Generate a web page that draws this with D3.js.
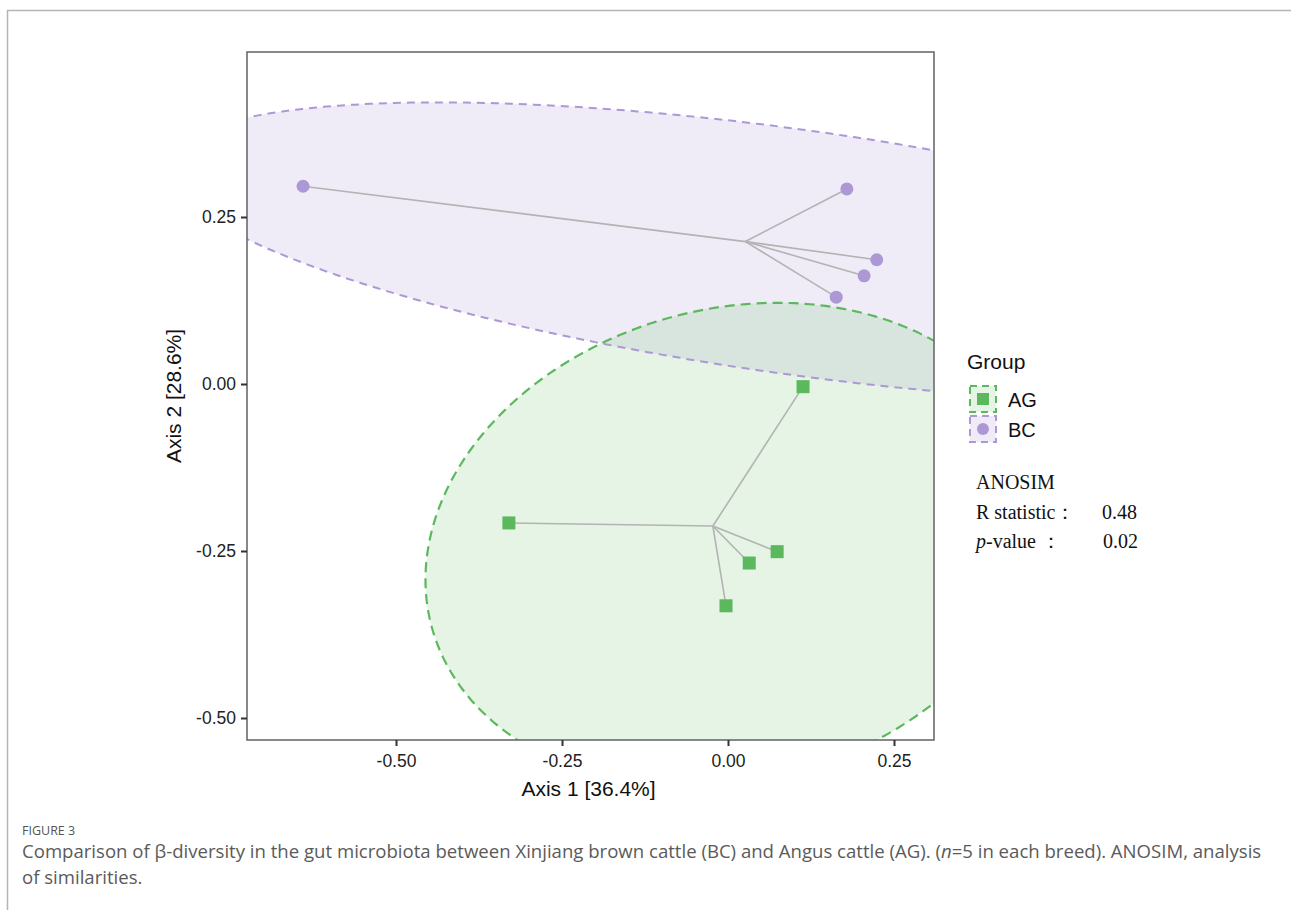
<!DOCTYPE html>
<html>
<head>
<meta charset="utf-8">
<script src="https://cdn.jsdelivr.net/npm/d3@7/dist/d3.min.js"></script>
<style>
  html, body { margin: 0; padding: 0; background: #fff; }
  svg { display: block; }
</style>
</head>
<body>
<svg id="chart" width="1291" height="910"></svg>
<script>
// ---------------- data ----------------
const groups = ["AG", "BC"];
const agX = [-0.330, 0.113, 0.032, 0.074, -0.003];
const agY = [-0.208, -0.004, -0.268, -0.251, -0.332];
const bcX = [-0.640, 0.179, 0.224, 0.205, 0.163];
const bcY = [0.296, 0.292, 0.186, 0.162, 0.130];

// confidence ellipses (centre, semi-axes, rotation in degrees), per group
const ellipseCenterX = [0.0074, 0.1009];
const ellipseCenterY = [-0.2406, 0.1976];
const ellipseSemiMajor = [0.470, 0.957];
const ellipseSemiMinor = [0.353, 0.183];
const ellipseAngleDeg = [15.1, -7.9];

const xTicks = [-0.50, -0.25, 0.00, 0.25];
const yTicks = [-0.50, -0.25, 0.00, 0.25];
const xTitle = "Axis 1 [36.4%]";
const yTitle = "Axis 2 [28.6%]";
const legendTitle = "Group";
const statLines = ["ANOSIM", "R statistic", "p-value"];
const statValues = ["", "0.48", "0.02"];
const figLabel = "FIGURE 3";

// ---------------- style ----------------
const colors = { AG: "#5cb85c", BC: "#ad98d6" };
const fills = { AG: "rgba(92,184,92,0.16)", BC: "rgba(165,140,210,0.17)" };
const dashes = { AG: "10,6", BC: "8,6" };

const svg = d3.select("#chart");

// outer frame
svg.append("line").attr("x1", 7).attr("x2", 1291).attr("y1", 10.5).attr("y2", 10.5)
  .attr("stroke", "#b5b5b5").attr("stroke-width", 1.5);
svg.append("line").attr("x1", 7.5).attr("x2", 7.5).attr("y1", 10).attr("y2", 910)
  .attr("stroke", "#b5b5b5").attr("stroke-width", 1.5);

const L = 247, R = 934, T = 52, B = 740;
const x = d3.scaleLinear().domain([-(728 - L) / 664, (R - 728) / 664]).range([L, R]);
const y = d3.scaleLinear().domain([-(B - 384) / 668, (384 - T) / 668]).range([B, T]);

svg.append("clipPath").attr("id", "clip").append("rect")
  .attr("x", L).attr("y", T).attr("width", R - L).attr("height", B - T);

const plot = svg.append("g").attr("clip-path", "url(#clip)");

function ellipsePoints(i) {
  const th = ellipseAngleDeg[i] * Math.PI / 180;
  const a = ellipseSemiMajor[i], b = ellipseSemiMinor[i];
  return d3.range(0, 361).map(k => {
    const t = k * Math.PI / 180;
    const ex = a * Math.cos(t), ey = b * Math.sin(t);
    return [x(ellipseCenterX[i] + ex * Math.cos(th) - ey * Math.sin(th)),
            y(ellipseCenterY[i] + ex * Math.sin(th) + ey * Math.cos(th))];
  });
}
const line = d3.line();

// draw ellipses (BC first, then AG)
[1, 0].forEach(i => {
  plot.append("path").attr("d", line(ellipsePoints(i)) + "Z")
    .attr("fill", fills[groups[i]]).attr("stroke", "none");
});
[1, 0].forEach(i => {
  plot.append("path").attr("d", line(ellipsePoints(i)) + "Z")
    .attr("fill", "none").attr("stroke", colors[groups[i]])
    .attr("stroke-width", groups[i] === "AG" ? 2.2 : 2).attr("stroke-dasharray", dashes[groups[i]]);
});

// spider segments + points
const sets = [
  { g: "AG", xs: agX, ys: agY },
  { g: "BC", xs: bcX, ys: bcY }
];
sets.forEach(s => {
  const cx = d3.mean(s.xs), cy = d3.mean(s.ys);
  s.xs.forEach((v, k) => {
    plot.append("line")
      .attr("x1", x(cx)).attr("y1", y(cy))
      .attr("x2", x(v)).attr("y2", y(s.ys[k]))
      .attr("stroke", "#b3b3b3").attr("stroke-width", 1.6);
  });
});
sets.forEach(s => {
  s.xs.forEach((v, k) => {
    if (s.g === "AG") {
      plot.append("rect").attr("x", x(v) - 6.5).attr("y", y(s.ys[k]) - 6.5)
        .attr("width", 13).attr("height", 13).attr("fill", colors.AG);
    } else {
      plot.append("circle").attr("cx", x(v)).attr("cy", y(s.ys[k])).attr("r", 6.5)
        .attr("fill", colors.BC);
    }
  });
});

// panel border
svg.append("rect").attr("x", L).attr("y", T).attr("width", R - L).attr("height", B - T)
  .attr("fill", "none").attr("stroke", "#6b6b6b").attr("stroke-width", 1.6);

// axes
const f2 = d3.format(".2f");
const fmt = v => f2(v).replace("\u2212", "-");
const xAxis = svg.append("g").attr("transform", `translate(0,${B})`)
  .call(d3.axisBottom(x).tickValues(xTicks).tickFormat(fmt).tickSize(6).tickSizeOuter(0));
const yAxis = svg.append("g").attr("transform", `translate(${L},0)`)
  .call(d3.axisLeft(y).tickValues(yTicks).tickFormat(fmt).tickSize(6).tickSizeOuter(0));
[xAxis, yAxis].forEach(a => {
  a.select(".domain").remove();
  a.selectAll(".tick line").attr("stroke", "#333").attr("stroke-width", 2);
  a.selectAll(".tick text").attr("fill", "#222")
    .style("font-family", "'Liberation Sans', Arial, sans-serif").style("font-size", "17.5px");
});
xAxis.selectAll(".tick text").attr("dy", "0").attr("y", 27);
yAxis.selectAll(".tick text").attr("x", -11);

svg.append("text").attr("x", (L + R) / 2 - 2).attr("y", 796).attr("text-anchor", "middle")
  .style("font-family", "'Liberation Sans', Arial, sans-serif").style("font-size", "21px")
  .attr("fill", "#111").text(xTitle);
svg.append("text").attr("transform", `translate(181,${(T + B) / 2}) rotate(-90)`)
  .attr("text-anchor", "middle")
  .style("font-family", "'Liberation Sans', Arial, sans-serif").style("font-size", "21px")
  .attr("fill", "#111").text(yTitle);

// legend
const lg = svg.append("g").style("font-family", "'Liberation Sans', Arial, sans-serif");
lg.append("text").attr("x", 967).attr("y", 369).style("font-size", "21px").attr("fill", "#111").text(legendTitle);
groups.forEach((g, i) => {
  const ky = 386 + i * 30;
  lg.append("rect").attr("x", 970).attr("y", ky).attr("width", 26).attr("height", 26)
    .attr("fill", fills[g]).attr("stroke", colors[g]).attr("stroke-width", 2)
    .attr("stroke-dasharray", "7,5");
  if (g === "AG") {
    lg.append("rect").attr("x", 983 - 6).attr("y", ky + 13 - 6).attr("width", 12).attr("height", 12)
      .attr("fill", colors[g]);
  } else {
    lg.append("circle").attr("cx", 983).attr("cy", ky + 13).attr("r", 6).attr("fill", colors[g]);
  }
  lg.append("text").attr("x", 1008).attr("y", ky + 21).style("font-size", "20px")
    .attr("fill", "#111").text(g);
});

// ANOSIM text
const st = svg.append("g").style("font-family", "'Liberation Serif', 'Times New Roman', serif")
  .style("font-size", "20px").attr("fill", "#111");
st.append("text").attr("x", 976).attr("y", 489).text(statLines[0]);
st.append("text").attr("x", 976).attr("y", 519).text(statLines[1] + "：");
const pv = st.append("text").attr("x", 976).attr("y", 548);
pv.append("tspan").style("font-style", "italic").text(statLines[2].slice(0, 1));
pv.append("tspan").text(statLines[2].slice(1) + " ：");
st.append("text").attr("x", 1102).attr("y", 519).text(statValues[1]);
st.append("text").attr("x", 1103).attr("y", 548).text(statValues[2]);

// caption
const cap = svg.append("g").style("font-family", "'Open Sans', 'Noto Sans', sans-serif").attr("fill", "#5a5a5a");
cap.append("text").attr("x", 22).attr("y", 835).style("font-size", "12.5px").attr("fill", "#555").text(figLabel);
const l1 = cap.append("text").attr("x", 22).attr("y", 858).style("font-size", "16px");
l1.append("tspan").text("Comparison of β-diversity in the gut microbiota between Xinjiang brown cattle (BC) and Angus cattle (AG). (");
l1.append("tspan").style("font-style", "italic").text("n");
l1.append("tspan").text("=5 in each breed). ANOSIM, analysis");
const l2 = cap.append("text").attr("x", 22).attr("y", 884).style("font-size", "16px").text("of similarities.");
// fit the first caption line to the reference width
const w1 = l1.node().getComputedTextLength();
const fs = 16 * 1240 / w1;
l1.style("font-size", fs + "px");
l2.style("font-size", fs + "px");
</script>
</body>
</html>
